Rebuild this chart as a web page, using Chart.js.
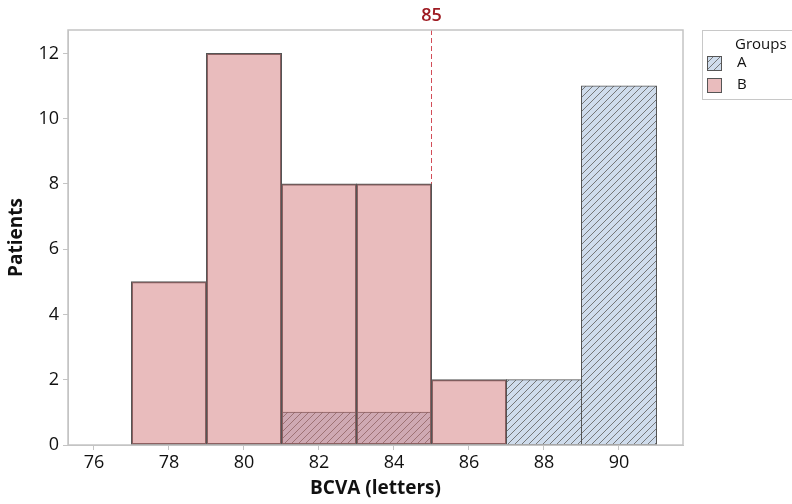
<!DOCTYPE html>
<html>
<head>
<meta charset="utf-8">
<script src="https://cdn.jsdelivr.net/npm/chart.js@4.4.1/dist/chart.umd.min.js"></script>
<style>
  html, body { margin: 0; padding: 0; background: #fff; }
  #wrap { width: 792px; height: 504px; position: relative; }
</style>
</head>
<body>
<div id="wrap"><canvas id="c" width="792" height="504"></canvas></div>
<script>
// Histogram bin centres (letters) and patient counts per group
const binCenters = [78, 80, 82, 84, 86, 88, 90];
const groupA = [0, 0, 1, 1, 0, 2, 11];
const groupB = [5, 12, 8, 8, 2, 0, 0];
const xTickValues = [76, 78, 80, 82, 84, 86, 88, 90];
const yTickValues = [0, 2, 4, 6, 8, 10, 12];
const seriesNames = ['A', 'B'];
const refValue = 85;

const FONT = "'Open Sans', 'Noto Sans', sans-serif";
const BLUE = '#cfdcec';
const PINK = 'rgba(207,109,111,0.46)';
const PINK_SOLID = '#e9bcbd';
const EDGE = '#555555';
const FRAME = '#c4c4c4';
const REF_LINE = '#d24d58';
const REF_TEXT = '#9e1b22';

function hatchPattern(bg, line) {
  const s = 7;
  const c = document.createElement('canvas');
  c.width = s; c.height = s;
  const g = c.getContext('2d');
  g.fillStyle = bg;
  g.fillRect(0, 0, s, s);
  g.strokeStyle = line;
  g.lineWidth = 0.9;
  g.beginPath();
  g.moveTo(-1, s + 1); g.lineTo(s + 1, -1);
  g.moveTo(-1, 1); g.lineTo(1, -1);
  g.moveTo(s - 1, s + 1); g.lineTo(s + 1, s - 1);
  g.stroke();
  return g.createPattern(c, 'repeat');
}

const ctx = document.getElementById('c').getContext('2d');
const hatchA = hatchPattern(BLUE, '#6b6b6b');

const toPoints = vals => binCenters
  .map((x, i) => ({ x: x, y: vals[i] }))
  .filter(p => p.y > 0);

const framePlugin = {
  id: 'frameAndRef',
  beforeDatasetsDraw(chart) {
    const { ctx, chartArea: a, scales } = chart;
    ctx.save();
    // reference line, drawn beneath the bars
    const xr = Math.floor(scales.x.getPixelForValue(refValue)) + 0.5;
    ctx.strokeStyle = REF_LINE;
    ctx.lineWidth = 1;
    ctx.setLineDash([5, 3]);
    ctx.beginPath();
    ctx.moveTo(xr, a.top);
    ctx.lineTo(xr, a.bottom);
    ctx.stroke();
    ctx.setLineDash([]);
    ctx.fillStyle = REF_TEXT;
    ctx.font = "600 18px " + FONT;
    ctx.textAlign = 'center';
    ctx.textBaseline = 'middle';
    ctx.fillText(String(refValue), xr, 16);
    ctx.restore();
  },
  afterDatasetsDraw(chart) {
    const { ctx, chartArea: a } = chart;
    ctx.save();
    ctx.strokeStyle = FRAME;
    ctx.lineWidth = 1.5;
    ctx.strokeRect(a.left, a.top, a.right - a.left, a.bottom - a.top);
    ctx.restore();
  },
  afterDraw(chart) {
    const { ctx } = chart;
    ctx.save();
    // legend box
    ctx.strokeStyle = '#c8c8c8';
    ctx.lineWidth = 1;
    ctx.strokeRect(702.5, 30.5, 120, 69);
    ctx.fillStyle = '#111';
    ctx.font = "15px " + FONT;
    ctx.textBaseline = 'middle';
    ctx.textAlign = 'left';
    ctx.fillText('Groups', 735, 45);
    const fills = [hatchA, PINK_SOLID];
    const ys = [56, 78];
    seriesNames.forEach((n, i) => {
      ctx.fillStyle = fills[i];
      ctx.fillRect(707, ys[i], 14, 14);
      ctx.strokeStyle = EDGE;
      ctx.strokeRect(707.5, ys[i] + 0.5, 14, 14);
      ctx.fillStyle = '#111';
      ctx.fillText(n, 737, ys[i] + 7);
    });
    ctx.restore();
  }
};

new Chart(ctx, {
  type: 'bar',
  data: {
    datasets: [
      {
        label: seriesNames[0],
        data: toPoints(groupA),
        backgroundColor: hatchA,
        borderColor: EDGE,
        borderWidth: 1,
        borderSkipped: false,
        inflateAmount: 0.5,
        order: 2
      },
      {
        label: seriesNames[1],
        data: toPoints(groupB),
        backgroundColor: PINK,
        borderColor: EDGE,
        borderWidth: 1,
        borderSkipped: false,
        inflateAmount: 0.5,
        order: 1
      }
    ]
  },
  options: {
    responsive: false,
    animation: false,
    devicePixelRatio: 1,
    grouped: false,
    barPercentage: 1,
    categoryPercentage: 1,
    layout: { padding: { top: 30, right: 109, bottom: 0, left: 0 } },
    plugins: { legend: { display: false }, tooltip: { enabled: false } },
    scales: {
      x: {
        type: 'linear',
        offset: false,
        min: 75.3067,
        max: 91.7067,
        afterFit(s) { s.height = 59; },
        afterBuildTicks(s) { s.ticks = xTickValues.map(v => ({ value: v })); },
        grid: { display: true, offset: false, drawOnChartArea: false, tickLength: 5, color: FRAME },
        border: { display: true, color: FRAME },
        ticks: { color: '#111', font: { family: FONT, size: 18, weight: 500 }, padding: 2, maxRotation: 0 },
        title: { display: true, text: 'BCVA (letters)', color: '#111',
                 font: { family: FONT, size: 19, weight: 'bold' }, padding: { top: 0, bottom: 4 } }
      },
      y: {
        min: 0,
        max: 12.72,
        afterFit(s) { s.width = 68; },
        afterBuildTicks(s) { s.ticks = yTickValues.map(v => ({ value: v })); },
        grid: { display: true, drawOnChartArea: false, tickLength: 5, color: FRAME },
        border: { display: true, color: FRAME },
        ticks: { color: '#111', font: { family: FONT, size: 18, weight: 500 }, padding: 4 },
        title: { display: true, text: 'Patients', color: '#111',
                 font: { family: FONT, size: 19, weight: 'bold' }, padding: { top: 5, bottom: 0 } }
      }
    }
  },
  plugins: [framePlugin]
});
</script>
</body>
</html>
